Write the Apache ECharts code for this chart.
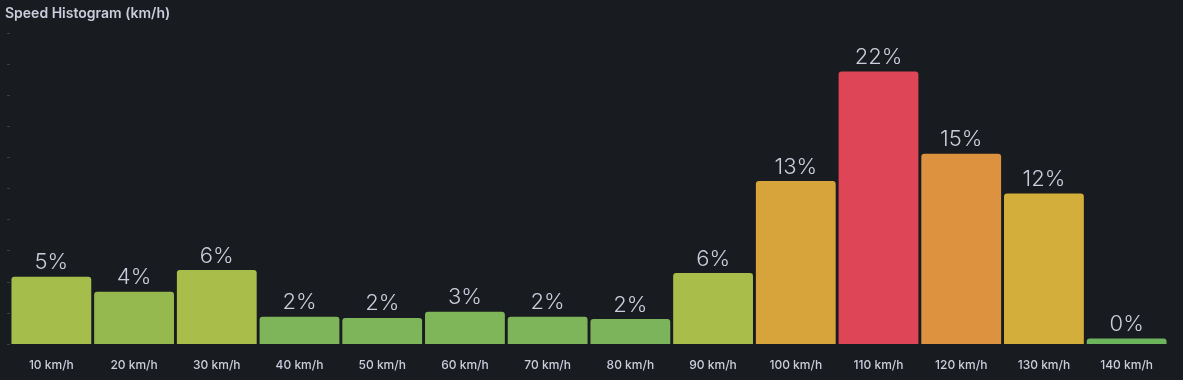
<!DOCTYPE html>
<html>
<head>
<meta charset="utf-8">
<script src="https://cdn.jsdelivr.net/npm/echarts@6/dist/echarts.min.js"></script>
<style>
html,body{margin:0;padding:0;background:#181b1f;}
#c{width:1183px;height:380px;}
</style>
</head>
<body>
<div id="c"></div>
<script>
const categories = ['10 km/h','20 km/h','30 km/h','40 km/h','50 km/h','60 km/h','70 km/h','80 km/h','90 km/h','100 km/h','110 km/h','120 km/h','130 km/h','140 km/h'];
const values = [5.4, 4.2, 5.95, 2.2, 2.1, 2.6, 2.2, 2.0, 5.7, 13.1, 21.9, 15.3, 12.1, 0.45];
const barColors = ['#a5bd4a','#96b94f','#a8bd4a','#7eb55a','#7eb55a','#7fb65a','#7eb55a','#7bb45a','#a8bd4a','#d6a43a','#de4657','#dc923e','#d4ae3a','#6cb55c'];
const yMax = 25;
const yInterval = 2.5;

const chart = echarts.init(document.getElementById('c'));
chart.setOption({
  backgroundColor: '#181b1f',
  animation: false,
  title: {
    text: 'Speed Histogram (km/h)',
    left: 0, top: 2,
    textStyle: {color: '#ccccdc', fontSize: 14, fontWeight: 600, fontFamily: 'Inter'}
  },
  grid: {left: 10, right: 15, top: 33, bottom: 36},
  xAxis: {
    type: 'category',
    data: categories,
    axisLine: {show: false},
    axisTick: {show: false},
    axisLabel: {color: '#ccccdc', fontSize: 12, fontWeight: 500, fontFamily: 'Inter', margin: 15}
  },
  yAxis: {
    type: 'value',
    min: 0, max: yMax, interval: yInterval,
    axisLine: {show: false},
    axisTick: {show: true, length: 3, lineStyle: {color: '#3b3e44'}},
    axisLabel: {show: false},
    splitLine: {show: false}
  },
  series: [{
    type: 'bar',
    data: values.map((v, i) => ({value: v, itemStyle: {color: barColors[i]}})),
    barCategoryGap: '3.5%',
    itemStyle: {borderRadius: [3,3,0,0]},
    label: {
      show: true, position: 'top', distance: 3,
      color: '#ccccdc', fontSize: 22, fontWeight: 300, fontFamily: 'Inter',
      formatter: p => Math.round(p.value) + '%'
    }
  }]
});
</script>
</body>
</html>
